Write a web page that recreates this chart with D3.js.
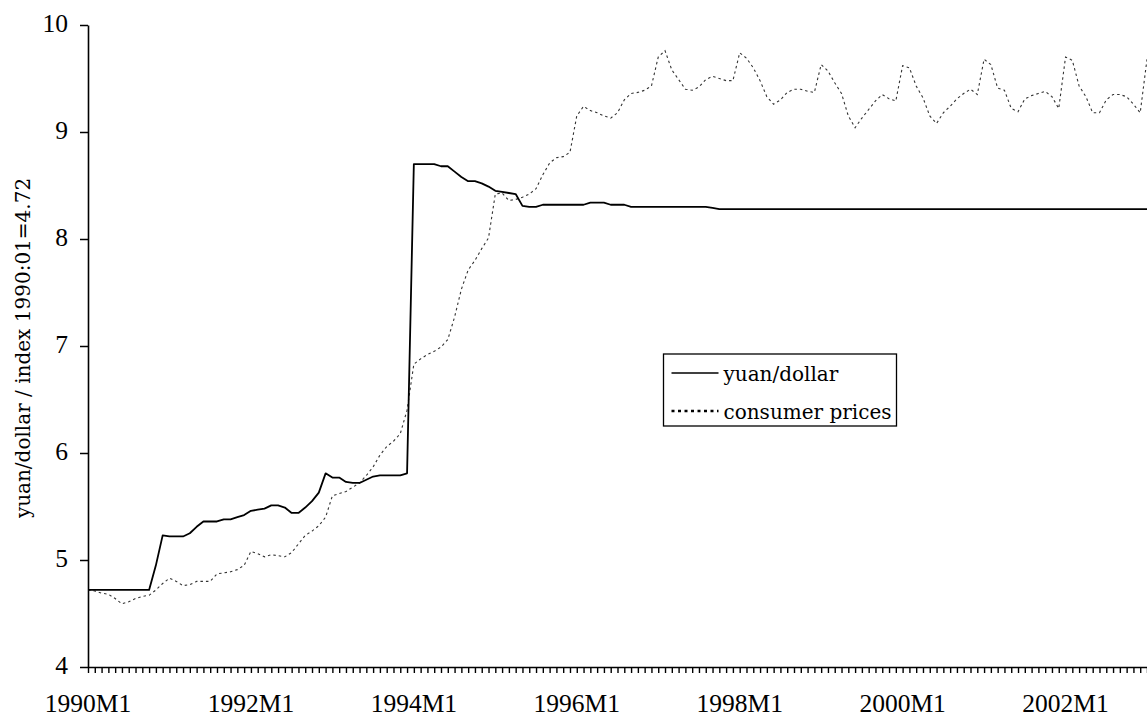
<!DOCTYPE html>
<html>
<head>
<meta charset="utf-8">
<script src="https://cdn.jsdelivr.net/npm/d3@7"></script>
<style>
  body { margin: 0; background: #fff; }
  svg { display: block; }
  .tick-label { font-family: "Liberation Serif", serif; font-size: 25.5px; fill: #000; }
  .title, .legend-text { font-family: "DejaVu Serif", serif; fill: #000; }
</style>
</head>
<body>
<svg id="chart"></svg>
<script>
// monthly data, 1990M1 .. 2003M1 (one row per year)
const yuanDollar = [
  4.72, 4.72, 4.72, 4.72, 4.72, 4.72, 4.72, 4.72, 4.72, 4.72, 4.95, 5.23,
  5.22, 5.22, 5.22, 5.25, 5.31, 5.36, 5.36, 5.36, 5.38, 5.38, 5.40, 5.42,
  5.46, 5.47, 5.48, 5.51, 5.51, 5.49, 5.44, 5.44, 5.49, 5.55, 5.63, 5.81,
  5.77, 5.77, 5.73, 5.72, 5.72, 5.75, 5.78, 5.79, 5.79, 5.79, 5.79, 5.81,
  8.70, 8.70, 8.70, 8.70, 8.68, 8.68, 8.63, 8.58, 8.54, 8.54, 8.52, 8.49,
  8.45, 8.44, 8.43, 8.42, 8.31, 8.30, 8.30, 8.32, 8.32, 8.32, 8.32, 8.32,
  8.32, 8.32, 8.34, 8.34, 8.34, 8.32, 8.32, 8.32, 8.30, 8.30, 8.30, 8.30,
  8.30, 8.30, 8.30, 8.30, 8.30, 8.30, 8.30, 8.30, 8.29, 8.28, 8.28, 8.28,
  8.28, 8.28, 8.28, 8.28, 8.28, 8.28, 8.28, 8.28, 8.28, 8.28, 8.28, 8.28,
  8.28, 8.28, 8.28, 8.28, 8.28, 8.28, 8.28, 8.28, 8.28, 8.28, 8.28, 8.28,
  8.28, 8.28, 8.28, 8.28, 8.28, 8.28, 8.28, 8.28, 8.28, 8.28, 8.28, 8.28,
  8.28, 8.28, 8.28, 8.28, 8.28, 8.28, 8.28, 8.28, 8.28, 8.28, 8.28, 8.28,
  8.28, 8.28, 8.28, 8.28, 8.28, 8.28, 8.28, 8.28, 8.28, 8.28, 8.28, 8.28,
  8.28
];

const consumerPrices = [
  4.72, 4.71, 4.69, 4.68, 4.64, 4.59, 4.61, 4.64, 4.66, 4.67, 4.72, 4.78,
  4.83, 4.80, 4.76, 4.77, 4.80, 4.80, 4.80, 4.87, 4.88, 4.89, 4.91, 4.95,
  5.08, 5.06, 5.03, 5.05, 5.04, 5.03, 5.07, 5.15, 5.23, 5.27, 5.32, 5.40,
  5.60, 5.62, 5.64, 5.68, 5.72, 5.79, 5.87, 5.98, 6.06, 6.11, 6.18, 6.40,
  6.83, 6.88, 6.92, 6.95, 6.99, 7.06, 7.27, 7.53, 7.71, 7.80, 7.91, 8.01,
  8.42, 8.43, 8.36, 8.37, 8.39, 8.42, 8.47, 8.60, 8.71, 8.76, 8.77, 8.81,
  9.15, 9.24, 9.20, 9.18, 9.15, 9.13, 9.18, 9.30, 9.36, 9.37, 9.39, 9.43,
  9.70, 9.76, 9.58, 9.49, 9.40, 9.39, 9.42, 9.49, 9.52, 9.50, 9.48, 9.48,
  9.74, 9.69, 9.60, 9.48, 9.33, 9.26, 9.30, 9.37, 9.40, 9.40, 9.38, 9.37,
  9.63, 9.57, 9.46, 9.36, 9.15, 9.04, 9.13, 9.21, 9.29, 9.35, 9.31, 9.29,
  9.62, 9.60, 9.43, 9.32, 9.15, 9.08, 9.18, 9.24, 9.31, 9.36, 9.40, 9.35,
  9.68, 9.63, 9.41, 9.39, 9.22, 9.19, 9.31, 9.34, 9.36, 9.38, 9.33, 9.22,
  9.70, 9.67, 9.43, 9.33, 9.18, 9.18, 9.30, 9.35, 9.35, 9.33, 9.26, 9.18,
  9.68
];

const startYear = 1990;
const months = yuanDollar.map((d, i) => `${startYear + Math.floor(i / 12)}M${(i % 12) + 1}`);
const xTickLabels = ["1990M1", "1992M1", "1994M1", "1996M1", "1998M1", "2000M1", "2002M1"];
const yTickValues = [4, 5, 6, 7, 8, 9, 10];
const seriesNames = ["yuan/dollar", "consumer prices"];
const yTitle = "yuan/dollar / index 1990:01=4.72";

const width = 1147;
const height = 717;
const margin = { top: 25, right: 0, bottom: 50, left: 88 };

const svg = d3.select("#chart")
  .attr("width", width)
  .attr("height", height);

// scales
const x = d3.scaleLinear()
  .domain([0, months.length - 1])
  .range([margin.left, width - margin.right]);

const y = d3.scaleLinear()
  .domain([4, 10])
  .range([height - margin.bottom, margin.top]);

// y axis
const yAxis = svg.append("g")
  .attr("transform", `translate(${margin.left},0)`)
  .call(d3.axisLeft(y).tickValues(yTickValues).tickSize(8).tickSizeOuter(0).tickFormat(d3.format("d")));
yAxis.select(".domain").attr("stroke", "#000").attr("stroke-width", 1.6);
yAxis.selectAll(".tick line").attr("stroke", "#000").attr("stroke-width", 1.5);
yAxis.selectAll(".tick text")
  .attr("class", "tick-label")
  .attr("x", -20)
  .attr("dy", "0.25em")
  .attr("font-family", null)
  .attr("font-size", null);

// x axis: a tick every month
const xAxis = svg.append("g")
  .attr("transform", `translate(0,${y(4)})`)
  .call(d3.axisBottom(x).tickValues(d3.range(months.length)).tickSize(6).tickSizeOuter(0).tickFormat(""));
xAxis.select(".domain").attr("stroke", "#000").attr("stroke-width", 1.6);
xAxis.selectAll(".tick line").attr("stroke", "#000").attr("stroke-width", 1.4);

// x labels every two years
svg.append("g")
  .selectAll("text")
  .data(xTickLabels)
  .join("text")
    .attr("class", "tick-label")
    .attr("text-anchor", "middle")
    .attr("x", d => x(months.indexOf(d)))
    .attr("y", y(4) + 45)
    .text(d => d);

// y title
svg.append("text")
  .attr("class", "title")
  .attr("font-size", 20)
  .attr("text-anchor", "middle")
  .attr("transform", `translate(30,${(y(4) + y(10)) / 2 + 2}) rotate(-90)`)
  .text(yTitle);

// lines
const line = d3.line()
  .x((d, i) => x(i))
  .y(d => y(d));

svg.append("path")
  .datum(consumerPrices)
  .attr("fill", "none")
  .attr("stroke", "#333")
  .attr("stroke-width", 1.1)
  .attr("stroke-dasharray", "2.5,3")
  .attr("d", line);

svg.append("path")
  .datum(yuanDollar)
  .attr("fill", "none")
  .attr("stroke", "#000")
  .attr("stroke-width", 1.8)
  .attr("stroke-linejoin", "round")
  .attr("d", line);

// legend
const legend = svg.append("g").attr("transform", "translate(663.5,354)");
legend.append("rect")
  .attr("width", 233)
  .attr("height", 72)
  .attr("fill", "#fff")
  .attr("stroke", "#000")
  .attr("stroke-width", 1.3);

const legendRows = legend.selectAll("g.row")
  .data(seriesNames)
  .join("g")
    .attr("class", "row")
    .attr("transform", (d, i) => `translate(0,${19 + i * 38})`);

legendRows.append("line")
  .attr("x1", 8)
  .attr("x2", 55)
  .attr("stroke", "#000")
  .attr("stroke-width", (d, i) => i === 0 ? 1.6 : 2.5)
  .attr("stroke-dasharray", (d, i) => i === 0 ? null : "3,3.5");

legendRows.append("text")
  .attr("class", "legend-text")
  .attr("font-size", 20)
  .attr("x", 60)
  .attr("y", 8)
  .text(d => d);
</script>
</body>
</html>
